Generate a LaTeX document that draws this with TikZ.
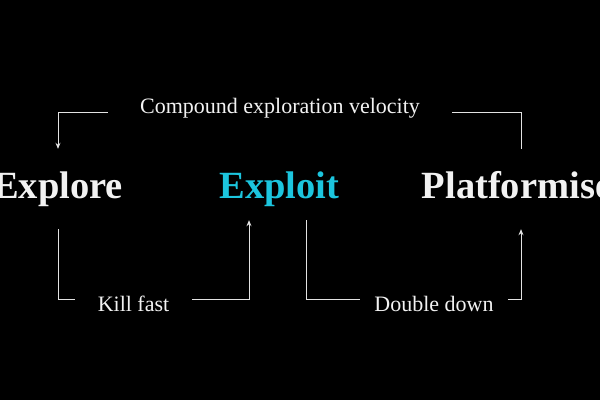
\documentclass[tikz,border=0pt]{standalone}
\usepackage{fontspec}
\setmainfont{Liberation Serif}
\usetikzlibrary{arrows.meta,positioning}
\definecolor{ink}{HTML}{000000}
\definecolor{chalk}{HTML}{F2F2F2}
\definecolor{wire}{HTML}{E2E2E2}
\definecolor{aqua}{HTML}{1CC5DE}
\tikzset{
  phase/.style={font=\fontsize{38.5}{42}\selectfont\bfseries,text=chalk,anchor=base,
                text height=27pt,text depth=0pt,inner xsep=0pt,inner ysep=22pt},
  tag/.style={font=\fontsize{22}{26}\selectfont,text=chalk,anchor=base,
              text height=2pt,text depth=0pt,inner ysep=0pt},
  low/.style={text height=24pt},
  link/.style={draw=wire,line width=0.9pt},
  arrow/.style={link,-{Stealth[length=6pt,width=5pt]}}
}
\begin{document}
\begin{tikzpicture}[x=1pt,y=-1pt]
\fill[ink] (0,0) rectangle (600,400);
\useasboundingbox (0,0) rectangle (600,400);
\clip (0,0) rectangle (600,400);
% three phases
\node[phase] (explore) at (58,198) {Explore};
\node[phase,text=aqua] (exploit) at (279.5,198) {Exploit};
\node[phase] (plat) at (517,198) {Platformise};
% labels on the loops
\node[tag,inner xsep=32pt] (velo) at (280,113) {Compound exploration velocity};
\node[tag,low,inner xsep=23pt] (kill) at (133.5,311) {Kill fast};
\node[tag,low,inner xsep=14pt] (double) at (434,311) {Double down};
% loops
\draw[link] ([xshift=4pt]plat.north) |- (velo.east);
\draw[arrow] (velo.west) -| (explore.north);
\draw[link] ([yshift=-9pt]explore.south) |- (kill.west);
\draw[arrow] (kill.east) -| ([xshift=-30.5pt]exploit.south);
\draw[link] ([xshift=26.5pt]exploit.south) |- (double.west);
\draw[arrow] (double.east) -| ([xshift=4pt,yshift=-9pt]plat.south);
\end{tikzpicture}
\end{document}
